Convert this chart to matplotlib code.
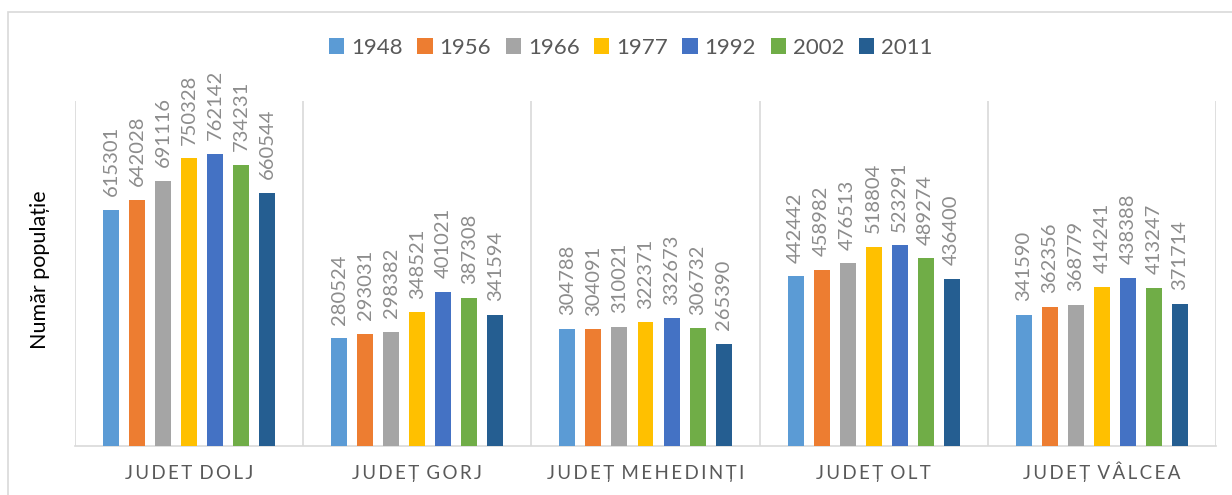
import numpy as np
import matplotlib.pyplot as plt
from matplotlib.patches import Rectangle
import matplotlib.transforms as mtransforms

plt.rcParams['font.family'] = ['Lato', 'DejaVu Sans']

# data
counties = ["JUDET DOLJ", "JUDEȚ GORJ", "JUDEȚ MEHEDINȚI", "JUDEȚ OLT", "JUDEȚ VÂLCEA"]
years = ["1948", "1956", "1966", "1977", "1992", "2002", "2011"]
pop_1948 = [615301, 280524, 304788, 442442, 341590]
pop_1956 = [642028, 293031, 304091, 458982, 362356]
pop_1966 = [691116, 298382, 310021, 476513, 368779]
pop_1977 = [750328, 348521, 322371, 518804, 414241]
pop_1992 = [762142, 401021, 332673, 523291, 438388]
pop_2002 = [734231, 387308, 306732, 489274, 413247]
pop_2011 = [660544, 341594, 265390, 436400, 371714]
series = [pop_1948, pop_1956, pop_1966, pop_1977, pop_1992, pop_2002, pop_2011]
colors = ["#5B9BD5", "#ED7D31", "#A5A5A5", "#FFC000", "#4472C4", "#70AD47", "#255E91"]

fig = plt.figure(figsize=(12.32, 4.95), dpi=100)
ax = fig.add_axes([75 / 1232, 1 - 446 / 495, (1216 - 75) / 1232, 345 / 495])

# outer frame of the chart area (only top and left edges are visible)
fig.patches.append(Rectangle((8 / 1232, -0.05), 1.0, 1 - 12 / 495 + 0.05,
                             transform=fig.transFigure, fill=False,
                             edgecolor="#D9D9D9", linewidth=1.2))

x = np.arange(len(counties))
step = 0.114
width = 0.07
for i, (vals, col, yr) in enumerate(zip(series, colors, years)):
    pos = x + (i - 3) * step
    bars = ax.bar(pos, vals, width, color=col, label=yr, zorder=3)
    for b, v in zip(bars, vals):
        ax.text(b.get_x() + b.get_width() / 2, v + 36000, str(v), rotation=90,
                ha="center", va="bottom", fontsize=14.5, color="#8C8C8C")

ax.set_xlim(-0.5, len(counties) - 0.5)
ax.set_ylim(0, 900000)

# separators between categories
for s in np.arange(len(counties) + 1) - 0.5:
    ax.axvline(s, color="#D9D9D9", linewidth=1.2, zorder=1)

for sp in ["top", "right", "left"]:
    ax.spines[sp].set_visible(False)
ax.spines["bottom"].set_color("#D9D9D9")
ax.spines["bottom"].set_linewidth(1.2)
ax.set_yticks([])
ax.set_xticks([])

# category labels with wide letter spacing
trans = mtransforms.blended_transform_factory(ax.transData, ax.transAxes)
for xi, name in zip(x, counties):
    spaced = "\u2009".join(name).replace("\u2009 \u2009", " \u2009")
    ax.text(xi, -0.096, spaced, transform=trans, ha="center", va="baseline",
            fontsize=13.5, color="#595959")

ax.text(-0.031, 0.51, "Număr populație", transform=ax.transAxes, rotation=90,
        ha="center", va="center", fontsize=15.5, color="#000000")

ax.legend(loc="center", bbox_to_anchor=(0.487, 1.154), ncol=7, frameon=False,
          fontsize=16, handlelength=0.7, handleheight=0.7, handletextpad=0.3,
          columnspacing=0.65, labelcolor="#595959")

fig.savefig("out.png", dpi=100)
